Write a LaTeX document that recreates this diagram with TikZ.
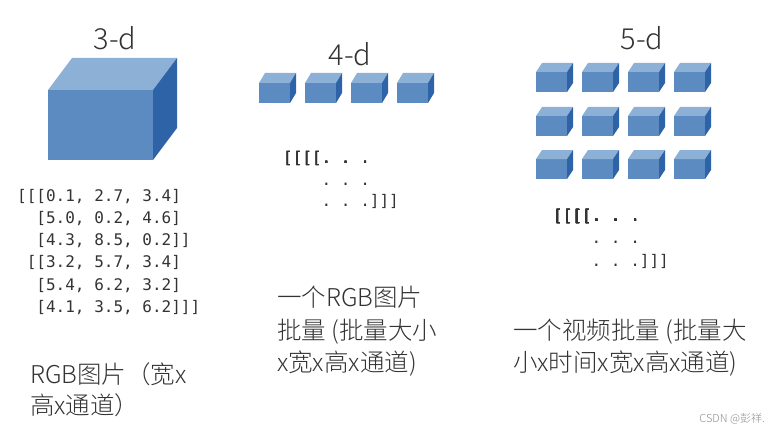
\documentclass[tikz,border=0pt]{standalone}
\usepackage{fontspec}
\newfontfamily\cjk{Noto Sans CJK SC Light}
\newfontfamily\mono{DejaVu Sans Mono}

\definecolor{facefront}{HTML}{5B8BC0}
\definecolor{facetop}{HTML}{8DB1D6}
\definecolor{faceside}{HTML}{2F63A8}
\definecolor{inkgray}{HTML}{333333}

% box: x, y (front top left), width, height, depth dx, depth dy
\newcommand\boxat[6]{%
\fill[boxfront] (#1,#2) rectangle ++(#3,#4);
\fill[boxtop] (#1,#2) -- ++(#5,-#6) -- ++(#3,0) -- ++(-#5,#6) -- cycle;
\fill[boxside] (#1+#3,#2) -- ++(#5,-#6) -- ++(0,#4) -- ++(-#5,#6) -- cycle;
}

\begin{document}
\begin{tikzpicture}
[
x=1pt,y=-1pt,
boxfront/.style={fill=facefront},
boxtop/.style={fill=facetop},
boxside/.style={fill=faceside},
dimlabel/.style={font=\cjk\fontsize{29}{34}\selectfont,text=inkgray,inner sep=0pt},
arrtext/.style={font=\mono\fontsize{16}{20}\selectfont\frenchspacing,text=black!80,
anchor=base west,inner sep=0pt},
captext/.style={font=\cjk\fontsize{24.5}{28}\selectfont,text=inkgray,anchor=base west,
inner sep=0pt}
]
\useasboundingbox (0,0) rectangle (780,436);

% 3-d
\node[dimlabel] (t3) at (115,38) {3-d};
\boxat{48}{90}{105}{70}{24}{32}
\node[arrtext] (m1) at (17,201) {[[[0.1, 2.7, 3.4]};
\node[arrtext] (m2) at (17,223) {\ \ [5.0, 0.2, 4.6]};
\node[arrtext] (m3) at (17,245) {\ \ [4.3, 8.5, 0.2]]};
\node[arrtext] (m4) at (17,267) {\ [[3.2, 5.7, 3.4]};
\node[arrtext] (m5) at (17,290) {\ \ [5.4, 6.2, 3.2]};
\node[arrtext] (m6) at (17,312) {\ \ [4.1, 3.5, 6.2]]]};
\node[captext] (c1a) at (30,383) {RGB图片（宽x};
\node[captext] (c1b) at (30,414) {高x通道）};

% 4-d
\node[dimlabel] (t4) at (350,54) {4-d};
\foreach \x in {259,305,351,397}
  \boxat{\x}{83}{31}{20}{6}{10}
\node[arrtext] (d4a) at (283,163) {[[[[. . .};
\node[arrtext] (d4b) at (283,185) {\ \ \ \ . . .};
\node[arrtext] (d4c) at (283,206) {\ \ \ \ . . .]]]};
\node[captext] (c2a) at (277,306) {一个RGB图片};
\node[captext] (c2b) at (277,339) {批量 (批量大小};
\node[captext] (c2c) at (277,371) {x宽x高x通道)};

% 5-d
\node[dimlabel] (t5) at (642,38) {5-d};
\foreach \x in {536,582,628,674}
  \foreach \y in {72,116,159}
    \boxat{\x}{\y}{31}{20}{6}{9}
\node[arrtext] (d5a) at (553,221) {[[[[. . .};
\node[arrtext] (d5b) at (553,243) {\ \ \ \ . . .};
\node[arrtext] (d5c) at (553,266) {\ \ \ \ . . .]]]};
\node[captext] (c3a) at (513,339) {一个视频批量 (批量大};
\node[captext] (c3b) at (513,371) {小x时间x宽x高x通道)};

\node[font=\cjk\fontsize{11}{13}\selectfont,text=black!45,anchor=base east,
inner sep=0pt] (mark) at (765,422) {CSDN @彭祥.};
\end{tikzpicture}
\end{document}
